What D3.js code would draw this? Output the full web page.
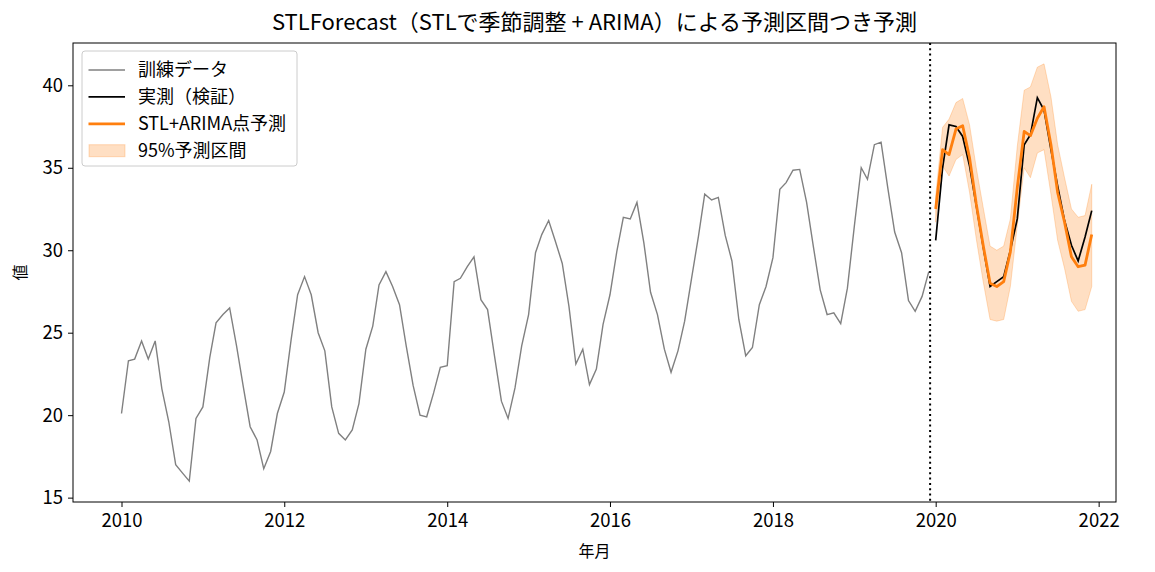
<!DOCTYPE html>
<html>
<head>
<meta charset="utf-8">
<script src="https://cdn.jsdelivr.net/npm/d3@7"></script>
<style>
  body { margin: 0; background: #fff; }
  text { font-family: "Noto Sans CJK JP", "Noto Sans", sans-serif; }
</style>
</head>
<body>
<div id="chart"></div>
<script>
// training data 2010-01 .. 2019-12 (monthly)
const trainValues = [
  20.1, 23.3, 23.4, 24.5, 23.4, 24.5, 21.6, 19.6, 17.0, 16.5, 16.0, 19.8,
  20.5, 23.5, 25.6, 26.1, 26.5, 24.2, 21.75, 19.3, 18.5, 16.75, 17.8, 20.1,
  21.4, 24.6, 27.3, 28.4, 27.3, 25.0, 23.9, 20.5, 18.9, 18.5, 19.1, 20.7,
  24.0, 25.4, 27.9, 28.7, 27.8, 26.7, 24.2, 21.8, 20.0, 19.9, 21.35, 22.9,
  23.0, 28.1, 28.3, 29.0, 29.6, 27.0, 26.4, 23.6, 20.85, 19.8, 21.65, 24.2,
  26.1, 29.85, 30.95, 31.8, 30.55, 29.2, 26.6, 23.1, 24.0, 21.85, 22.8, 25.5,
  27.3, 29.95, 32.0, 31.9, 32.9, 30.45, 27.45, 26.1, 24.0, 22.6, 23.9, 25.7,
  28.3, 30.85, 33.4, 33.05, 33.2, 30.9, 29.35, 25.8, 23.6, 24.1, 26.7, 27.8,
  29.55, 33.7, 34.1, 34.85, 34.9, 32.9, 30.25, 27.6, 26.1, 26.2, 25.55, 27.7,
  31.45, 35.0, 34.3, 36.4, 36.55, 33.7, 31.1, 29.85, 26.95, 26.3, 27.2, 28.7
];

// validation period 2020-01 .. 2021-12
const testValues = [
  30.6, 35.0, 37.6, 37.5, 36.9, 35.1, 32.7, 30.2, 27.8, 28.1, 28.4, 30.0,
  31.9, 36.4, 37.0, 39.25, 38.5, 36.1, 33.9, 31.8, 30.3, 29.35, 30.8, 32.4
];

const forecastValues = [
  32.5, 36.1, 35.8, 37.35, 37.55, 35.6, 32.8, 30.3, 28.0, 27.8, 28.1, 29.9,
  33.8, 37.2, 36.95, 38.0, 38.7, 36.4, 33.5, 31.7, 29.6, 29.0, 29.1, 30.95
];

const upperValues = [
  33.3, 37.45, 37.95, 38.95, 39.2, 37.6, 35.0, 32.6, 30.25, 30.0, 30.25, 31.9,
  36.3, 39.7, 39.9, 41.1, 41.3, 39.3, 36.4, 34.4, 32.5, 32.0, 32.1, 34.0
];

const lowerValues = [
  31.7, 35.1, 34.5, 35.5, 35.8, 33.5, 30.7, 28.1, 25.8, 25.7, 25.8, 27.8,
  31.5, 35.0, 34.4, 35.9, 36.1, 33.4, 30.6, 28.9, 26.9, 26.3, 26.4, 27.8
];

const yTicks = [15, 20, 25, 30, 35, 40];
const xTickYears = [2010, 2012, 2014, 2016, 2018, 2020, 2022];
const splitDate = new Date(2019, 11, 7);

const titleText = "STLForecast（STLで季節調整 + ARIMA）による予測区間つき予測";
const legendLabels = ["訓練データ", "実測（検証）", "STL+ARIMA点予測", "95%予測区間"];

// dates
const trainDates = trainValues.map((v, i) => new Date(2010, i, 1));
const testDates = testValues.map((v, i) => new Date(2020, i, 1));

const train = trainValues.map((v, i) => ({date: trainDates[i], value: v}));
const test = testValues.map((v, i) => ({date: testDates[i], value: v}));
const fc = forecastValues.map((v, i) => ({
  date: testDates[i], value: v, lo: lowerValues[i], hi: upperValues[i]
}));

const svgWidth = 1155;
const svgHeight = 572;
const margin = {top: 43, right: 39, bottom: 70, left: 73};
const width = svgWidth - margin.left - margin.right;
const height = svgHeight - margin.top - margin.bottom;

const svg = d3.select('#chart')
  .append('svg')
  .attr('width', svgWidth)
  .attr('height', svgHeight);

const g = svg.append('g')
  .attr('transform', `translate(${margin.left}, ${margin.top})`);

// x padding: 5% on the left, less on the right (as in the picture)
const t0 = trainDates[0].getTime();
const t1 = testDates[testDates.length - 1].getTime();
const span = t1 - t0;
const xScale = d3.scaleTime()
  .domain([new Date(t0 - span * 0.05), new Date(t1 + span * 0.025)])
  .range([0, width]);

const yMin = d3.min([...trainValues, ...testValues, ...lowerValues]);
const yMax = d3.max([...trainValues, ...testValues, ...upperValues]);
const padY = (yMax - yMin) * 0.05;
const yScale = d3.scaleLinear()
  .domain([yMin - padY, yMax + padY])
  .range([height, 0]);

const orange = '#ff7f0e';

// confidence band
const area = d3.area()
  .x(d => xScale(d.date))
  .y0(d => yScale(d.lo))
  .y1(d => yScale(d.hi));

g.append('path')
  .datum(fc)
  .attr('d', area)
  .attr('fill', orange)
  .attr('fill-opacity', 0.25)
  .attr('stroke', orange)
  .attr('stroke-opacity', 0.25)
  .attr('stroke-width', 1);

const line = d3.line()
  .x(d => xScale(d.date))
  .y(d => yScale(d.value));

g.append('path')
  .datum(train)
  .attr('d', line)
  .attr('fill', 'none')
  .attr('stroke', 'gray')
  .attr('stroke-width', 1.4);

g.append('path')
  .datum(test)
  .attr('d', line)
  .attr('fill', 'none')
  .attr('stroke', 'black')
  .attr('stroke-width', 1.7);

g.append('path')
  .datum(fc)
  .attr('d', line)
  .attr('fill', 'none')
  .attr('stroke', orange)
  .attr('stroke-width', 2.8)
  .attr('stroke-linejoin', 'round');

// split line
g.append('line')
  .attr('x1', xScale(splitDate))
  .attr('x2', xScale(splitDate))
  .attr('y1', 0)
  .attr('y2', height)
  .attr('stroke', 'black')
  .attr('stroke-width', 2)
  .attr('stroke-dasharray', '2,3.3');

// axes
const xAxis = d3.axisBottom(xScale)
  .tickValues(xTickYears.map(y => new Date(y, 0, 1)))
  .tickFormat(d3.timeFormat('%Y'))
  .tickSizeOuter(0)
  .tickSize(5)
  .tickPadding(7);

const yAxis = d3.axisLeft(yScale)
  .tickValues(yTicks)
  .tickSizeOuter(0)
  .tickSize(5)
  .tickPadding(5);

const gx = g.append('g')
  .attr('transform', `translate(0, ${height})`)
  .call(xAxis);
const gy = g.append('g').call(yAxis);

[gx, gy].forEach(a => {
  a.select('.domain').remove();
  a.selectAll('text').attr('font-size', 18.5).attr('fill', '#000')
    .style('font-family', '"Noto Sans CJK JP", sans-serif');
  a.selectAll('line').attr('stroke', '#000').attr('stroke-width', 1);
});

// frame
g.append('rect')
  .attr('width', width)
  .attr('height', height)
  .attr('fill', 'none')
  .attr('stroke', '#000')
  .attr('stroke-width', 1);

// labels
svg.append('text')
  .text(titleText)
  .attr('x', margin.left + width / 2)
  .attr('y', 30)
  .attr('text-anchor', 'middle')
  .attr('font-size', 22);

svg.append('text')
  .text('年月')
  .attr('x', margin.left + width / 2)
  .attr('y', 557)
  .attr('text-anchor', 'middle')
  .attr('font-size', 16);

svg.append('text')
  .text('値')
  .attr('transform', `translate(26, ${margin.top + height / 2}) rotate(-90)`)
  .attr('text-anchor', 'middle')
  .attr('font-size', 16);

// legend
const legend = svg.append('g').attr('transform', 'translate(82, 51)');
legend.append('rect')
  .attr('width', 215)
  .attr('height', 115)
  .attr('rx', 3)
  .attr('fill', 'white')
  .attr('fill-opacity', 0.8)
  .attr('stroke', '#ccc')
  .attr('stroke-width', 1);

const legendStyles = [
  {type: 'line', color: 'gray', w: 1.4},
  {type: 'line', color: 'black', w: 1.7},
  {type: 'line', color: orange, w: 2.8},
  {type: 'patch'}
];

legendLabels.forEach((label, i) => {
  const yy = 19 + i * 26.9;
  const s = legendStyles[i];
  if (s.type === 'line') {
    legend.append('line')
      .attr('x1', 6.5).attr('x2', 43)
      .attr('y1', yy).attr('y2', yy)
      .attr('stroke', s.color)
      .attr('stroke-width', s.w);
  } else {
    legend.append('rect')
      .attr('x', 7).attr('y', yy - 6)
      .attr('width', 36).attr('height', 12)
      .attr('fill', orange).attr('fill-opacity', 0.25)
      .attr('stroke', orange).attr('stroke-opacity', 0.25);
  }
  legend.append('text')
    .text(label)
    .attr('x', 56)
    .attr('y', yy + 6)
    .attr('font-size', 18);
});
</script>
</body>
</html>
